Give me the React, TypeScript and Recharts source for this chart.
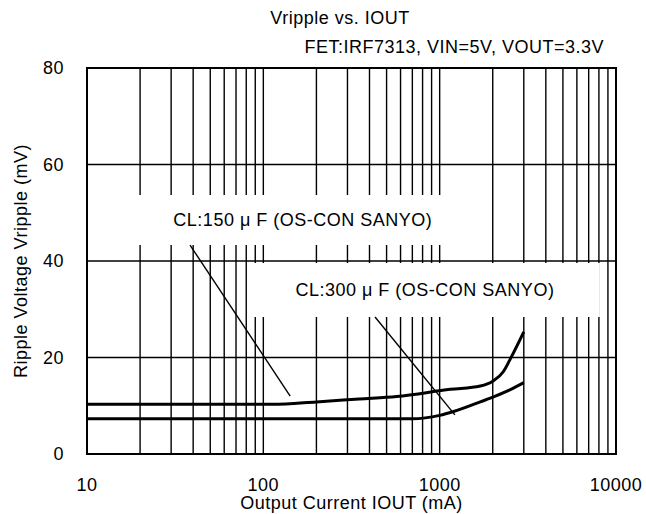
import {
  CartesianGrid,
  ComposedChart,
  Label,
  Line,
  ReferenceArea,
  ReferenceLine,
  XAxis,
  YAxis,
} from 'recharts'

// output current (mA) and ripple (mV)
const iout150 = [10, 113, 200, 350, 570, 1150, 1700, 2000, 2300, 2500, 3000]
const ripple150 = [10.3, 10.3, 10.8, 11.4, 11.9, 13.4, 14.1, 15.1, 17.1, 19.5, 25.3]

const iout300 = [10, 700, 1000, 1200, 1700, 2000, 2500, 3000]
const ripple300 = [7.3, 7.3, 8.0, 8.8, 10.8, 11.8, 13.3, 14.8]

const decades = [10, 100, 1000]
const xTicks = [...decades.flatMap((d) => [1, 2, 3, 4, 5, 6, 7, 8, 9].map((m) => m * d)), 10000]
const yTicks = [0, 20, 40, 60, 80]

// annotation boxes and leader lines, in data units
const note150 = { text: 'CL:150 \u03bc F (OS-CON SANYO)', x: [17, 1650], y: [43.3, 53.7], from: [38.4, 43.3], to: [142, 12] }
const note300 = { text: 'CL:300 \u03bc F (OS-CON SANYO)', x: [84, 8100], y: [28.4, 39.6], from: [430, 28.4], to: [1220, 8.1] }

const series150 = iout150.map((x, i) => ({ x, v: ripple150[i] }))
const series300 = iout300.map((x, i) => ({ x, v: ripple300[i] }))

const font = '"Liberation Sans", Arial, sans-serif'
const textStyle = { fontSize: 18, letterSpacing: 0.5, fill: '#000', fontFamily: font }

const isDecade = (v: number) => Math.abs(Math.log10(v) - Math.round(Math.log10(v))) < 1e-9

function App() {
  const notes = [note150, note300]
  const htmlText = { fontSize: 18, letterSpacing: 0.5, lineHeight: '20px', whiteSpace: 'nowrap' as const }
  return (
    <div style={{ position: 'absolute', left: 0, top: 0, width: 646, height: 514, background: '#fff', fontFamily: font }}>
      <div style={{ ...htmlText, position: 'absolute', left: 340, top: 8, transform: 'translateX(-50%)' }}>
        Vripple vs. IOUT
      </div>
      <div style={{ ...htmlText, position: 'absolute', left: 0, top: 37, width: 604, textAlign: 'right' }}>
        FET:IRF7313, VIN=5V, VOUT=3.3V
      </div>
      <ComposedChart width={646} height={514} margin={{ top: 68, right: 30, bottom: 0, left: 0 }} style={{ position: 'absolute', left: 0, top: 0 }}>
        <CartesianGrid stroke="#000" strokeWidth={1.4} />
        <XAxis
          type="number"
          dataKey="x"
          scale="log"
          domain={[10, 10000]}
          ticks={xTicks}
          interval={0}
          allowDataOverflow
          height={60}
          axisLine={false}
          tickLine={false}
          tickSize={0}
          tickMargin={24}
          tick={textStyle}
          tickFormatter={(v: number) => (isDecade(v) ? String(v) : '')}
        >
          <Label value="Output Current IOUT (mA)" position="insideBottom" offset={5} style={textStyle} />
        </XAxis>
        <YAxis
          type="number"
          domain={[0, 80]}
          ticks={yTicks}
          width={87}
          axisLine={false}
          tickLine={false}
          tickSize={0}
          tickMargin={23}
          tick={textStyle}
        >
          <Label value="Ripple Voltage Vripple (mV)" angle={-90} position="insideLeft" offset={21} style={{ ...textStyle, textAnchor: 'middle' }} />
        </YAxis>
        {notes.map((n) => (
          <ReferenceArea key={n.text} x1={n.x[0]} x2={n.x[1]} y1={n.y[0]} y2={n.y[1]} fill="#fff" fillOpacity={1} stroke="none" ifOverflow="visible">
            <Label value={n.text} position="center" style={textStyle} />
          </ReferenceArea>
        ))}
        {notes.map((n) => (
          <ReferenceLine
            key={n.text + '-leader'}
            segment={[{ x: n.from[0], y: n.from[1] }, { x: n.to[0], y: n.to[1] }]}
            stroke="#000"
            strokeWidth={1.4}
          />
        ))}
        <Line data={series150} dataKey="v" type="monotone" stroke="#000" strokeWidth={3} dot={false} isAnimationActive={false} />
        <Line data={series300} dataKey="v" type="monotone" stroke="#000" strokeWidth={3} dot={false} isAnimationActive={false} />
        <ReferenceArea x1={10} x2={10000} y1={0} y2={80} fill="none" stroke="#000" strokeWidth={2} />
      </ComposedChart>
    </div>
  )
}

export default App
